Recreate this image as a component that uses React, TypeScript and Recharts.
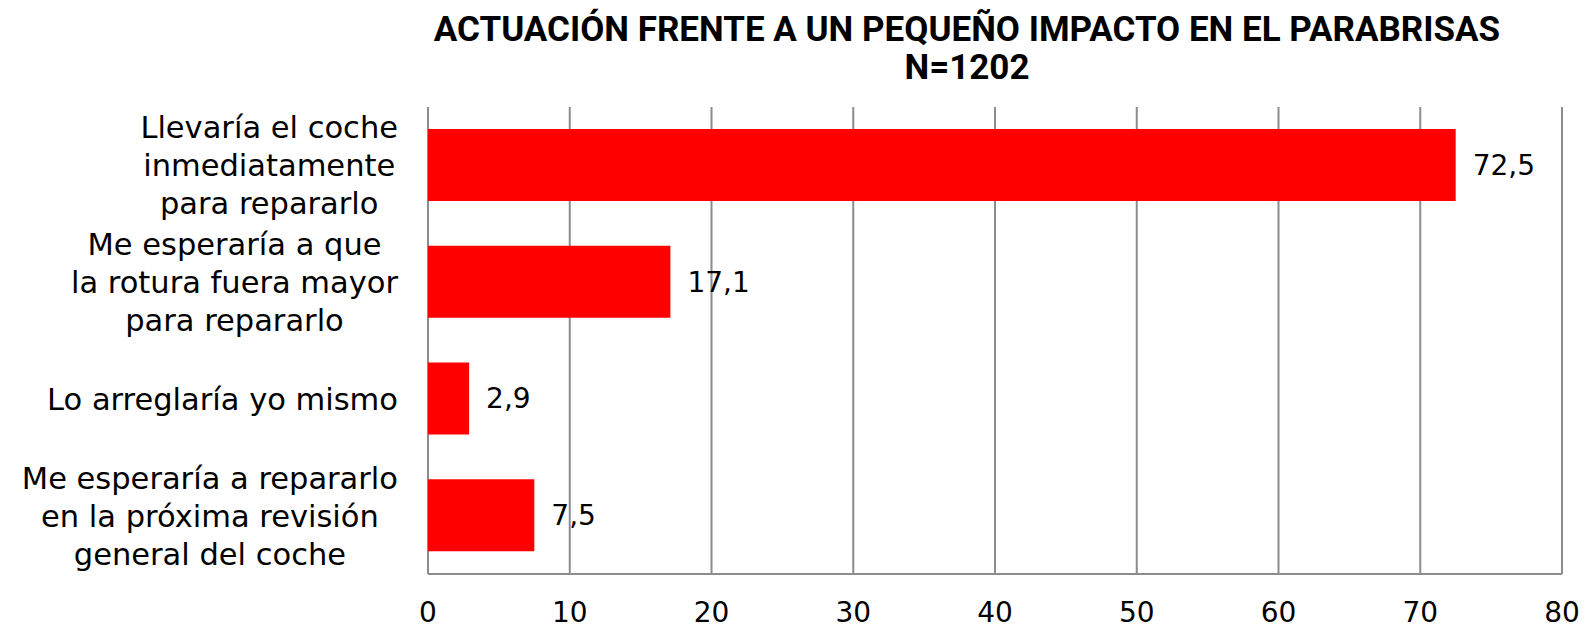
import React from "react";
import { BarChart, Bar, XAxis, YAxis, CartesianGrid, LabelList } from "recharts";

const categories: string[][] = [
  ["Llevaría el coche", "inmediatamente", "para repararlo"],
  ["Me esperaría a que", "la rotura fuera mayor", "para repararlo"],
  ["Lo arreglaría yo mismo"],
  ["Me esperaría a repararlo", "en la próxima revisión", "general del coche"],
];
const values: number[] = [72.5, 17.1, 2.9, 7.5];
const xTicks: number[] = [0, 10, 20, 30, 40, 50, 60, 70, 80];
const titleLines: string[] = [
  "ACTUACIÓN FRENTE A UN PEQUEÑO IMPACTO EN EL PARABRISAS",
  "N=1202",
];

const data = categories.map((lines, i) => ({ name: lines.join("\n"), value: values[i] }));

const FONT = '"DejaVu Sans", sans-serif';
const CAT_SIZE = 30.5;
const LINE_H = 38;

let ctx: CanvasRenderingContext2D | null = null;
function measure(t: string): number {
  if (!ctx) {
    const c = document.createElement("canvas");
    ctx = c.getContext("2d");
  }
  if (!ctx) return t.length * CAT_SIZE * 0.55;
  ctx.font = `${CAT_SIZE}px "DejaVu Sans"`;
  return ctx.measureText(t).width;
}

const CatTick = (props: any) => {
  const { x, y, payload } = props;
  const lines: string[] = String(payload.value).split("\n");
  const maxW = Math.max(...lines.map(measure));
  const cx = x - maxW / 2;
  const n = lines.length;
  return (
    <g>
      {lines.map((l, i) => (
        <text
          key={i}
          x={cx}
          y={y + (i - (n - 1) / 2) * LINE_H}
          dy="0.36em"
          textAnchor="middle"
          fontFamily={FONT}
          fontSize={CAT_SIZE}
          fill="#000"
        >
          {l}
        </text>
      ))}
    </g>
  );
};

const XTick = (props: any) => {
  const { x, y, payload } = props;
  return (
    <text x={x} y={y + 48} textAnchor="middle" fontFamily={FONT} fontSize={28} fill="#000">
      {payload.value}
    </text>
  );
};

export default function App() {
  return (
    <div style={{ position: "absolute", left: 0, top: 0, width: 1590, height: 630, background: "#fff" }}>
      <div
        style={{
          position: "absolute",
          left: 0,
          top: 11,
          width: 1934,
          textAlign: "center",
          fontFamily: "Roboto, sans-serif",
          fontWeight: 700,
          fontSize: 35,
          lineHeight: "38px",
          color: "#000",
        }}
      >
        {titleLines.map((t, i) => (
          <div key={i}>{t}</div>
        ))}
      </div>
      <BarChart
        width={1590}
        height={630}
        data={data}
        layout="vertical"
        margin={{ top: 107, right: 28, bottom: 0, left: 0 }}
      >
        <CartesianGrid horizontal={false} vertical={true} stroke="#8c8c8c" strokeWidth={2} />
        <XAxis
          type="number"
          domain={[0, 80]}
          ticks={xTicks}
          height={56}
          tickLine={false}
          axisLine={{ stroke: "#8c8c8c", strokeWidth: 2 }}
          tick={<XTick />}
          tickMargin={0}
          tickSize={0}
          interval={0}
        />
        <YAxis
          type="category"
          dataKey="name"
          width={428}
          axisLine={false}
          tickLine={false}
          tickSize={0}
          tickMargin={30}
          tick={<CatTick />}
          interval={0}
        />
        <Bar dataKey="value" fill="#ff0000" barSize={72} isAnimationActive={false}>
          <LabelList
            dataKey="value"
            position="right"
            offset={17}
            formatter={(v: any) => String(v).replace(".", ",")}
            style={{ fontFamily: FONT, fontSize: 28, fill: "#000" }}
          />
        </Bar>
      </BarChart>
    </div>
  );
}
